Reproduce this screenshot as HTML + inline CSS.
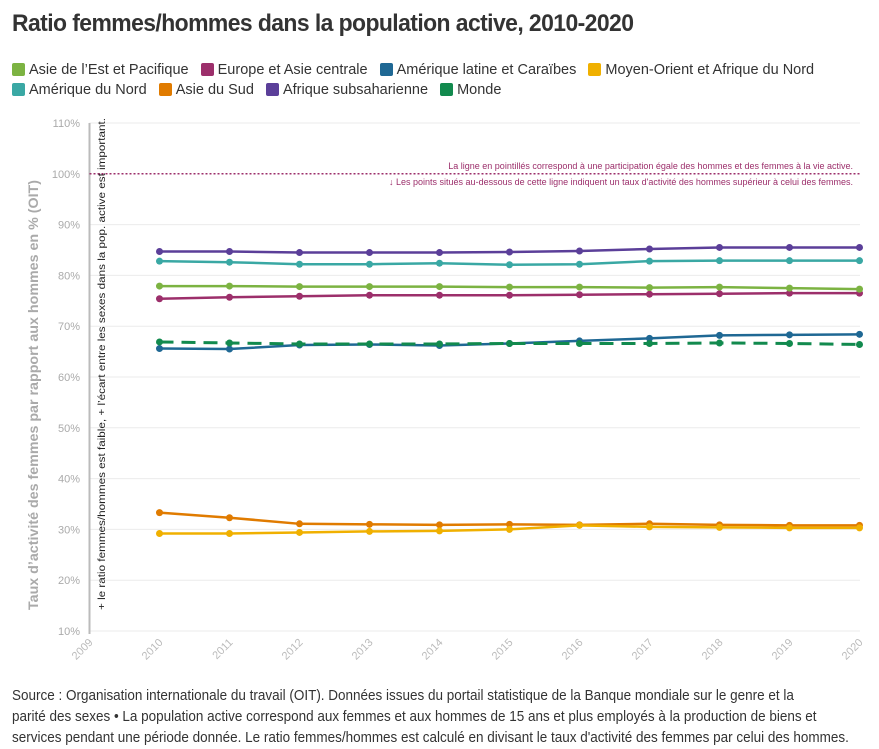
<!DOCTYPE html>
<html><head><meta charset="utf-8">
<style>
body{margin:0;width:879px;height:731px;overflow:hidden;background:#fff;font-family:"Liberation Sans",sans-serif;position:relative}
#title{position:absolute;left:12px;top:10px;font-size:24px;font-weight:bold;color:#333;letter-spacing:-0.6px;transform:scaleX(0.955);transform-origin:left;white-space:nowrap}
.legend{position:absolute;left:12px;font-size:14.5px;color:#333;white-space:nowrap}
.li{display:inline-block;margin-right:8px}
.sw{display:inline-block;width:13px;height:13px;border-radius:2px;vertical-align:-2px;margin-right:4px}
#foot{position:absolute;left:12px;top:686px;width:922px;font-size:14.5px;line-height:21px;color:#333;transform:scaleX(0.93);transform-origin:left}
svg{position:absolute;left:0;top:0}
</style></head><body>
<div id="title">Ratio femmes/hommes dans la population active, 2010-2020</div>
<div class="legend" style="top:62px">
<span class="li"><span class="sw" style="background:#7cb342"></span>Asie de l’Est et Pacifique</span>
<span class="li"><span class="sw" style="background:#9c2f6b"></span>Europe et Asie centrale</span>
<span class="li"><span class="sw" style="background:#1f6894"></span>Amérique latine et Caraïbes</span>
<span class="li"><span class="sw" style="background:#f0b000"></span>Moyen-Orient et Afrique du Nord</span>
</div>
<div class="legend" style="top:82px">
<span class="li"><span class="sw" style="background:#3aa8a4"></span>Amérique du Nord</span>
<span class="li"><span class="sw" style="background:#e07b00"></span>Asie du Sud</span>
<span class="li"><span class="sw" style="background:#5b3f99"></span>Afrique subsaharienne</span>
<span class="li"><span class="sw" style="background:#128a4e"></span>Monde</span>
</div>
<svg id="chart" width="879" height="731"></svg>
<div id="foot">Source : Organisation internationale du travail (OIT). Données issues du portail statistique de la Banque mondiale sur le genre et la<br>parité des sexes • La population active correspond aux femmes et aux hommes de 15 ans et plus employés à la production de biens et<br>services pendant une période donnée. Le ratio femmes/hommes est calculé en divisant le taux d'activité des femmes par celui des hommes.</div>
<script>
const years=[2010,2011,2012,2013,2014,2015,2016,2017,2018,2019,2020];
const yTicks=[10,20,30,40,50,60,70,80,90,100,110];
const xTicks=[2009,2010,2011,2012,2013,2014,2015,2016,2017,2018,2019,2020];
const africa=[84.7,84.7,84.5,84.5,84.5,84.6,84.8,85.2,85.5,85.5,85.5];
const northAmerica=[82.8,82.6,82.2,82.2,82.4,82.1,82.2,82.8,82.9,82.9,82.9];
const eastAsia=[77.9,77.9,77.8,77.8,77.8,77.7,77.7,77.6,77.7,77.5,77.3];
const europe=[75.4,75.7,75.9,76.1,76.1,76.1,76.2,76.3,76.4,76.5,76.5];
const latinAmerica=[65.6,65.5,66.3,66.4,66.2,66.6,67.1,67.6,68.2,68.3,68.4];
const world=[66.9,66.7,66.5,66.5,66.5,66.6,66.6,66.6,66.7,66.6,66.4];
const southAsia=[33.3,32.3,31.1,31.0,30.9,31.0,30.9,31.1,30.9,30.8,30.8];
const mena=[29.2,29.2,29.4,29.6,29.7,30.0,30.8,30.5,30.4,30.3,30.3];
const series=[
 ['series-south-asia',southAsia,'#e07b00',false],
 ['series-mena',mena,'#f0b000',false],
 ['series-latin-america',latinAmerica,'#1f6894',false],
 ['series-world',world,'#128a4e',true],
 ['series-europe',europe,'#9c2f6b',false],
 ['series-east-asia',eastAsia,'#7cb342',false],
 ['series-north-america',northAmerica,'#3aa8a4',false],
 ['series-africa',africa,'#5b3f99',false]];
const X=y=>89.5+(y-2009)*70;
const Y=v=>631-(v-10)*5.08;
const svg=document.getElementById('chart');
const NS='http://www.w3.org/2000/svg';
function mk(t,a,p){const e=document.createElementNS(NS,t);for(const k in a)e.setAttribute(k,a[k]);(p||svg).appendChild(e);return e;}
yTicks.forEach(t=>{
 if(t!==100){const l=mk('line',{x1:89.5,x2:860,y1:Y(t),y2:Y(t),stroke:'#ebebeb','stroke-width':1});
 
 }
 const tx=mk('text',{x:80,y:Y(t)+4,'text-anchor':'end','font-size':11,fill:'#aaa','font-family':'Liberation Sans'});tx.textContent=t+'%';
 
 
});
xTicks.forEach(t=>{
 const tx=mk('text',{transform:`translate(${X(t)+4},${643}) rotate(-45)`,'text-anchor':'end','font-size':11,fill:'#bbb','font-family':'Liberation Sans'});tx.textContent=t;
 
 
});
const ax=mk('line',{x1:89.5,x2:89.5,y1:123,y2:634,stroke:'#bbb','stroke-width':2});


const ref=mk('line',{x1:89.5,x2:860,y1:Y(100),y2:Y(100),stroke:'#9c2f6b','stroke-width':1.5,'stroke-dasharray':'2,2'});


const a1=mk('text',{x:853,y:169,'text-anchor':'end','font-size':9,fill:'#9c2f6b','font-family':'Liberation Sans'});a1.textContent='La ligne en pointillés correspond à une participation égale des hommes et des femmes à la vie active.';


const a2=mk('text',{x:853,y:185,'text-anchor':'end','font-size':9,fill:'#9c2f6b','font-family':'Liberation Sans'});a2.textContent='↓ Les points situés au-dessous de cette ligne indiquent un taux d\'activité des hommes supérieur à celui des femmes.';


const vt=mk('text',{transform:'translate(105,610) rotate(-90)','font-size':10.5,fill:'#222','font-family':'Liberation Sans',textLength:492,lengthAdjust:'spacingAndGlyphs'});vt.textContent='+ le ratio femmes/hommes est faible, + l’écart entre les sexes dans la pop. active est important.';


const yt=mk('text',{transform:'translate(38,610) rotate(-90)','font-size':14,'font-weight':'bold',fill:'#aaa','font-family':'Liberation Sans',textLength:430,lengthAdjust:'spacingAndGlyphs'});yt.textContent='Taux d’activité des femmes par rapport aux hommes en % (OIT)';


series.forEach(([name,vals,col,dash])=>{
 const g=mk('g',{});
 
 
 const d=vals.map((v,i)=>(i?'L':'M')+X(years[i])+','+Y(v)).join('');
 const p=mk('path',{d:d,fill:'none',stroke:col,'stroke-width':dash?3:2.5},g);
 if(dash)p.setAttribute('stroke-dasharray','14,8');
 
 
 vals.forEach((v,i)=>{const c=mk('circle',{cx:X(years[i]),cy:Y(v),r:3.5,fill:col},g);
  
  });
});
</script>
</body></html>
